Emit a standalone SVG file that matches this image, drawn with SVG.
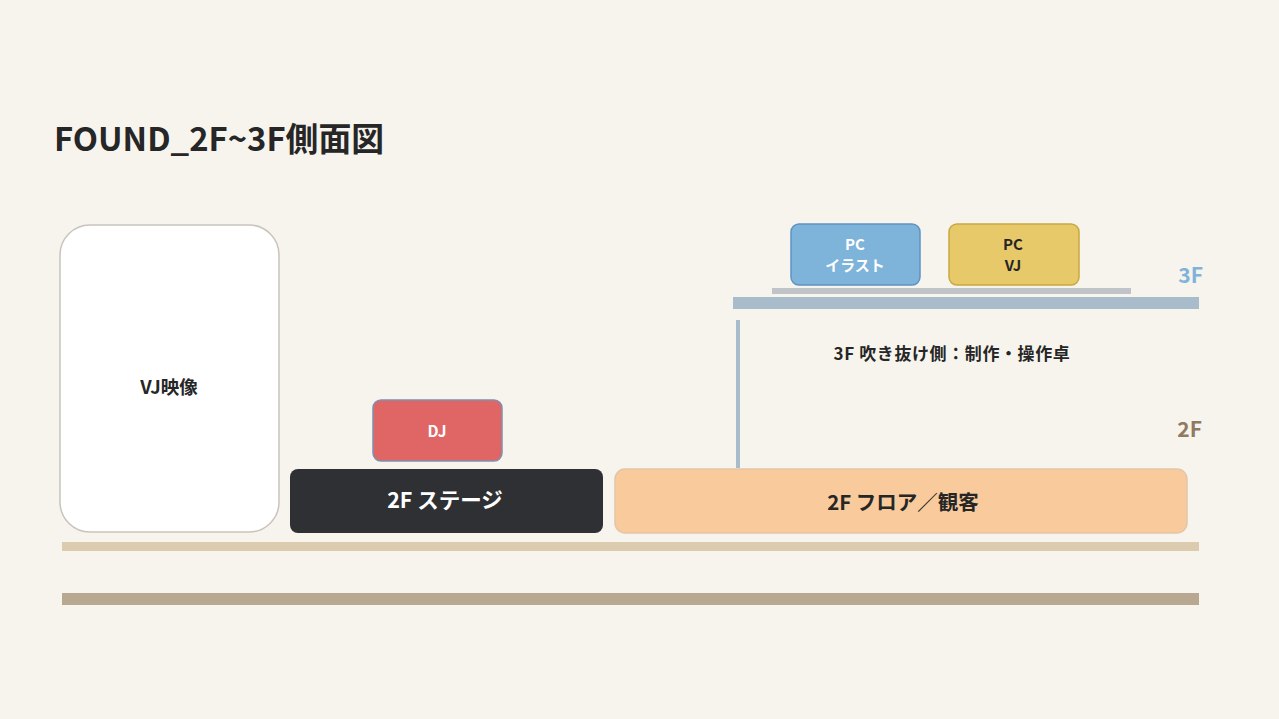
<svg xmlns="http://www.w3.org/2000/svg" width="1279" height="719" viewBox="0 0 1279 719">
<style>
text{font-family:"Noto Sans CJK JP","Noto Sans",sans-serif;font-weight:bold;text-anchor:middle;dominant-baseline:central}
.dark{fill:#262626}
.white{fill:#ffffff}
</style>
<rect x="0" y="0" width="1279" height="719" fill="#f7f4ee"/>
<text x="54" y="136" style="text-anchor:start;font-size:32.8px" class="dark">FOUND_2F~3F側面図</text>
<g id="structure">
<rect x="62" y="542" width="1137" height="9" fill="#ddcbb0"/>
<rect x="62" y="593" width="1137" height="12" fill="#b8a892"/>
<rect x="733" y="297" width="466" height="12" fill="#a9bccb"/>
<rect x="772" y="288" width="359" height="6" fill="#c0c4c8"/>
<rect x="736" y="320" width="4" height="148" fill="#a9bccb"/>
</g>
<g id="connectors"></g>
<g id="vj-screen">
<rect x="60" y="225" width="219" height="307" rx="30" fill="#ffffff" stroke="#c8c4bc" stroke-width="1.5"/>
<text x="169" y="386" style="font-size:18.5px" class="dark">VJ映像</text>
</g>
<g id="dj">
<rect x="373" y="400" width="129" height="61" rx="8" fill="#e06666" stroke="#7f8fb0" stroke-width="1.5"/>
<text x="437" y="430" style="font-size:15.5px" class="white">DJ</text>
</g>
<g id="stage">
<rect x="290" y="469" width="313" height="64" rx="8" fill="#2f3034"/>
<text x="445" y="498" style="font-size:21.5px" class="white">2F ステージ</text>
</g>
<g id="floor">
<rect x="615" y="469" width="572" height="64" rx="10" fill="#f9cb9c" stroke="#e2c6a8" stroke-width="1.5"/>
<text x="903" y="501" style="font-size:20.5px" class="dark">2F フロア／観客</text>
</g>
<g id="pc-illust">
<rect x="791" y="224" width="129" height="61" rx="8" fill="#7eb3da" stroke="#5e93c4" stroke-width="1.5"/>
<text x="855" y="243" style="font-size:15px" class="white">PC</text>
<text x="855" y="264" style="font-size:15px" class="white">イラスト</text>
</g>
<g id="pc-vj">
<rect x="949" y="224" width="130" height="61" rx="8" fill="#e8c96a" stroke="#c8a840" stroke-width="1.5"/>
<text x="1013" y="243" style="font-size:15px" class="dark">PC</text>
<text x="1013" y="264" style="font-size:15px" class="dark">VJ</text>
</g>
<text x="1203" y="274" style="text-anchor:end;font-size:21px;fill:#7eb3da">3F</text>
<text x="1202" y="428" style="text-anchor:end;font-size:21px;fill:#8f7a62">2F</text>
<text x="952" y="352" style="font-size:17px;letter-spacing:0.6px" class="dark">3F 吹き抜け側：制作・操作卓</text>
</svg>
